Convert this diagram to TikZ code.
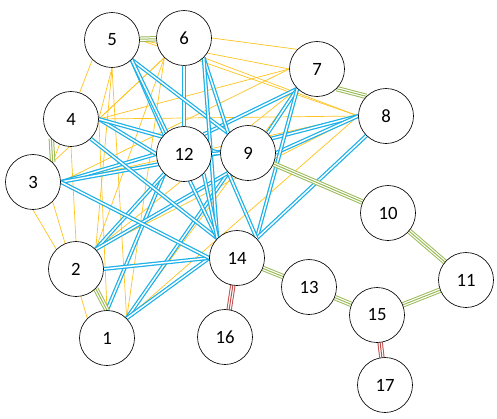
\documentclass[tikz,border=0pt]{standalone}
\usepackage{fontspec}
\setmainfont{Carlito}
\usepackage{tikz}
\usetikzlibrary{backgrounds}
\definecolor{hublink}{HTML}{1AB0E8}
\definecolor{weaklink}{HTML}{FFC31F}
\definecolor{leaflink}{HTML}{9BBB59}
\definecolor{firmlink}{HTML}{C0504D}
\tikzset{fig/.style={line join=round,x=0.03cm,y=-0.03cm},
 vert/.style={circle,draw=black,fill=white,line width=0.55pt,minimum size=1.65cm,inner sep=0pt,font=\fontsize{16}{16}\selectfont},
 blu/.style={draw=hublink,line width=1.05pt,double=white,double distance=1.25pt},
 yel/.style={draw=weaklink,line width=0.6pt},
 tri/.style={draw=#1,line width=0.85pt,double=white,double distance=2.9pt},
 mid/.style={draw=#1,line width=0.85pt}}

\begin{document}
\begin{tikzpicture}[fig]
 \useasboundingbox (0,0) rectangle (497,419);
 % vertices
 \foreach \n/\x/\y in {1/107/338, 2/76/269, 3/33/182, 4/71/119, 5/112/40, 6/184/38, 7/317/69, 8/386/116,
   9/248/153, 12/184/154, 14/237/258, 10/388/213, 11/466/280, 13/309/287, 15/377/315, 16/225/337, 17/385/385}
  \node[vert] (\n) at (\x,\y) {\n};
 \begin{pgfonlayer}{background}
  % weak links among the outer ring
  \foreach \a/\b in {3.south east/1.north west, 3.south/2.north west, 4.east/1.north, 4.south/2.north,
    5.south/1.north east, 5.south/2.north east, 6.south west/1.north east, 6.south west/2.north east,
    7.south west/1.north east, 7.south west/2.north east, 8.west/1.north east, 8.west/2.north east,
    3.north east/5.south west, 3.north east/6.south west, 3.east/7.west, 3.east/8.west,
    4.east/5.south, 4.east/6.south west, 4.east/7.west, 4.east/8.west,
    5.east/7.west, 5.east/8.west, 6.east/7.north west, 6.south east/8.west}
   \draw[yel] (\a)--(\b);
  % hub links
  \foreach \a/\b in {1.north/12.south west, 2.north east/12.south west, 3.east/12.west, 4.east/12.west,
    5.south east/12.north west, 6.south/12.north, 7.south west/12.north east, 8.west/12.east,
    1.north east/9.south west, 2.north east/9.south west, 3.east/9.west, 4.east/9.west,
    5.south east/9.north west, 6.south east/9.north west, 7.south west/9.north east, 8.west/9.east,
    1.north east/14.west, 2.east/14.west, 3.east/14.west, 4.south east/14.north west,
    5.south east/14.north west, 6.south east/14.north west, 7.south west/14.north east, 8.south west/14.north east,
    12.east/9.west, 12.south east/14.north west, 9.south west/14.north east}
   \draw[blu] (\a)--(\b);
  % chains
  \foreach \a/\b/\c in {5/6/leaflink,3.north east/4.south west/leaflink,2.south east/1.north/leaflink,7.south east/8.north west/leaflink,
    9/10/leaflink,10/11/leaflink,11/15/leaflink,14/13/leaflink,13/15/leaflink,14/16/firmlink,15/17/firmlink}{
   \draw[tri=\c] (\a)--(\b);\draw[mid=\c] (\a)--(\b);}
 \end{pgfonlayer}
\end{tikzpicture}
\end{document}
